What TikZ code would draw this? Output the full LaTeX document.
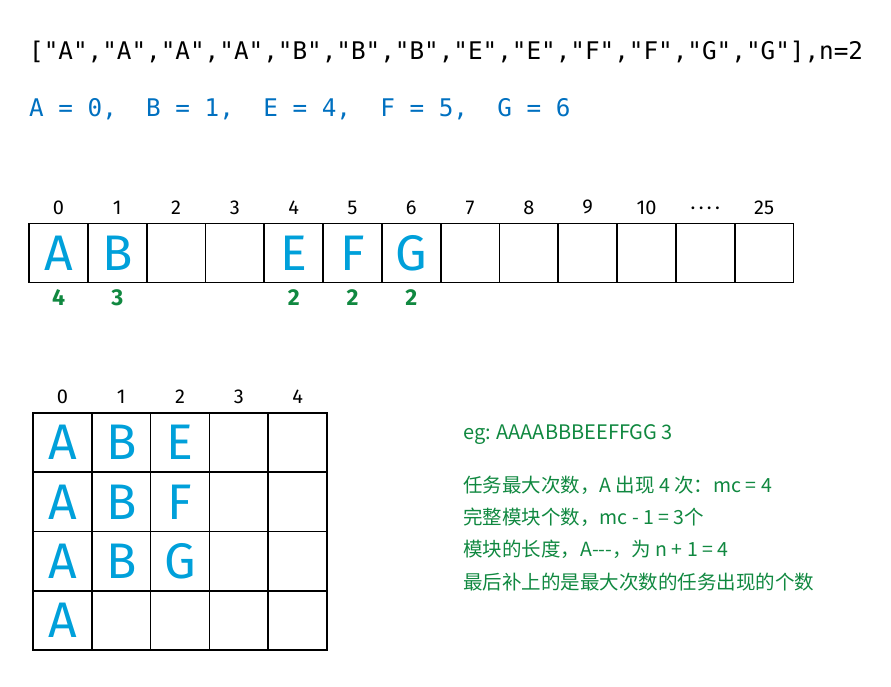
\documentclass[tikz,border=0pt]{standalone}
\usepackage{fontspec}
\setmainfont{Fira Sans}
\newfontfamily\codefont{DejaVu Sans Mono}
\newfontfamily\cjkfont{Noto Sans CJK SC}
\definecolor{codeblue}{RGB}{0,112,192}
\definecolor{penblue}{RGB}{0,160,218}
\definecolor{pengreen}{RGB}{16,136,64}
\usetikzlibrary{positioning}
\tikzset{
  slot/.style={draw, line width=1.7pt, minimum width=58.8pt, minimum height=58.8pt, inner sep=0pt, outer sep=0pt},
  letter/.style={text=penblue, font=\fontsize{50}{50}\selectfont},
  idx/.style={font=\fontsize{20}{20}\selectfont, inner sep=1pt},
  cnt/.style={text=pengreen, font=\fontsize{23}{23}\selectfont\bfseries, inner sep=1pt},
  note/.style={text=pengreen, font=\cjkfont\fontsize{19.5}{19.5}\selectfont, anchor=west, inner sep=0pt},
  code/.style={anchor=west, inner sep=0pt, font=\codefont\fontsize{24.3}{24.3}\selectfont},
}

\begin{document}
\begin{tikzpicture}[x=1pt, y=-1pt, node distance=8pt]
  \useasboundingbox (0,0) rectangle (891,686);

  \node [code] (input) at (29,52) {["A","A","A","A","B","B","B","E","E","F","F","G","G"],n=2};
  \node [code, text=codeblue] (index) at (29,109) {A = 0,\ \ B = 1,\ \ E = 4,\ \ F = 5,\ \ G = 6};

  % bucket of 26 letters
  \foreach \i/\t in {0/A,1/B,2/{},3/{},4/E,5/F,6/G,7/{},8/{},9/{},10/{},11/{},12/{}}
    \node [slot, letter] (c\i) at ({58.5+58.8*\i},253) {\t};
  \foreach \i/\t in {0/0,1/1,2/2,3/3,4/4,5/5,6/6,7/7,8/8,9/9,10/10,11/{·\,·\,·\,·},12/25}
    \node [idx, above=of c\i] (ci\i) {\t};
  \node [cnt, below=6pt of c0] (cnt0) {4};
  \node [cnt, below=6pt of c1] (cnt1) {3};
  \node [cnt, below=6pt of c4] (cnt4) {2};
  \node [cnt, below=6pt of c5] (cnt5) {2};
  \node [cnt, below=6pt of c6] (cnt6) {2};

  % schedule grid
  \foreach \r/\la/\lb/\lc in {0/A/B/E,1/A/B/F,2/A/B/G,3/A/{}/{}} {
    \foreach \c/\t in {0/\la,1/\lb,2/\lc,3/{},4/{}}
      \node [slot, letter, minimum height=59.3pt] (g\r\c) at ({62.4+58.8*\c},{442.6+59.3*\r}) {\t};
  }
  \foreach \c in {0,...,4}
    \node [idx, above=of g0\c] (gi\c) {\c};

  \node [note, font=\cjkfont\fontsize{20}{20}\selectfont] (eg) at (463,435) {eg: AAAABBBEEFFGG 3};
  \node [note] (l1) at (463,485) {任务最大次数，A 出现 4 次：mc = 4};
  \node [note] (l2) at (463,517) {完整模块个数，mc - 1 = 3个};
  \node [note] (l3) at (463,549) {模块的长度，A-{}-{}-，为 n + 1 = 4};
  \node [note] (l4) at (463,582) {最后补上的是最大次数的任务出现的个数};
\end{tikzpicture}
\end{document}
